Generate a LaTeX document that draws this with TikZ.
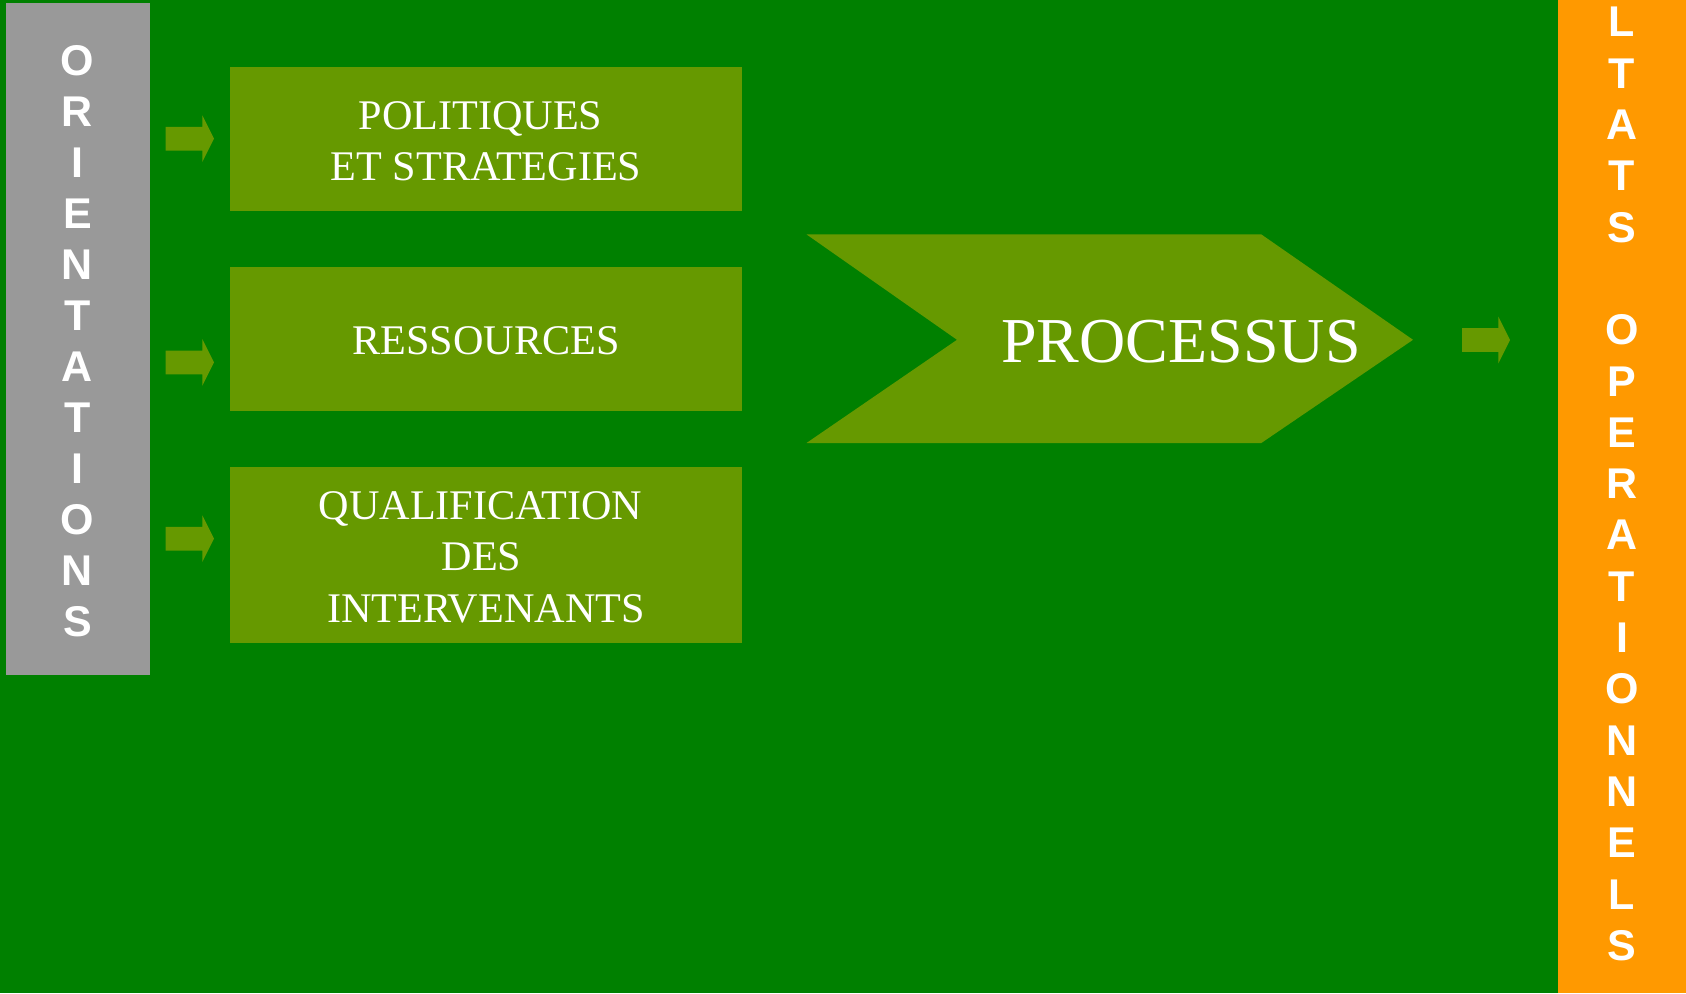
\documentclass[tikz,border=0pt]{standalone}
\usepackage{fontspec}
\setmainfont{Liberation Serif}
\newfontfamily\barfont{Liberation Sans}
\definecolor{bggreen}{HTML}{008000}
\definecolor{olivebox}{HTML}{669900}
\definecolor{graybar}{HTML}{999999}
\definecolor{orangebar}{HTML}{FF9900}
\begin{document}
\begin{tikzpicture}[x=1pt,y=-1pt,
  box/.style={fill=olivebox, minimum width=512pt, inner sep=0pt},
  boxtext/.style={text=white, inner sep=0pt, align=center,
    font=\fontsize{42.2}{51.6}\selectfont, yshift=-2.5pt},
  bar/.style={inner sep=0pt, anchor=north west},
  barletter/.style={text=white, font=\barfont\bfseries\fontsize{43}{43}\selectfont,
    anchor=base, inner sep=0pt},
  blockarrow/.style={fill=olivebox}
]
\useasboundingbox (0,0) rectangle (1686,993);
\fill[bggreen] (0,0) rectangle (1686,993);

% left bar
\node[bar, fill=graybar, minimum width=144pt, minimum height=672pt] (orient) at (6,3) {};
\foreach \ch [count=\i from 0] in {O,R,I,E,N,T,A,T,I,O,N,S}
  \node[barletter] (o\i) at (77.5, 60+51*\i+15.4) {\ch};

% right bar
\node[bar, fill=orangebar, minimum width=128pt, minimum height=993pt] (result) at (1558,0) {};
\foreach \ch/\k in {L/0,T/1,A/2,T/3,S/4,O/6,P/7,E/8,R/9,A/10,T/11,I/12,O/13,N/14,N/15,E/16,L/17,S/18}
  \node[barletter] (r\k) at (1622, 21.5+51.3*\k+15.4) {\ch};

% boxes
\node[box, minimum height=144pt] (pol) at (486,138.7) {};
\node[box, minimum height=144pt] (res) at (486,338.7) {};
\node[box, minimum height=176pt] (qual) at (486,554.8) {};
\node[boxtext] (polt) at (pol.center) {POLITIQUES\kern11pt\\ET STRATEGIES};
\node[boxtext] (rest) at (res.center) {RESSOURCES};
\node[boxtext] (qualt) at (qual.center) {QUALIFICATION\kern11pt\\DES\kern9pt\\INTERVENANTS};

% small block arrows
\foreach \yy in {138.7,362.4,538.7}
  \fill[blockarrow] (165.6,\yy-11.9) -- (202.3,\yy-11.9) -- (202.3,\yy-23.4) -- (214,\yy)
    -- (202.3,\yy+23.4) -- (202.3,\yy+11.9) -- (165.6,\yy+11.9) -- cycle;
\fill[blockarrow] (1462,340-11.9) -- (1498.3,340-11.9) -- (1498.3,340-23.4) -- (1510,340)
    -- (1498.3,340+23.4) -- (1498.3,340+11.9) -- (1462,340+11.9) -- cycle;

% chevron
\fill[olivebox] (806.5,234.4) -- (1261.3,234.4) -- (1413,339.8) -- (1261.3,443)
  -- (806.5,443) -- (957,339.8) -- cycle;
\node[text=white, inner sep=0pt, font=\fontsize{64}{64}\selectfont] (proc) at (1181,342) {PROCESSUS};
\end{tikzpicture}
\end{document}
